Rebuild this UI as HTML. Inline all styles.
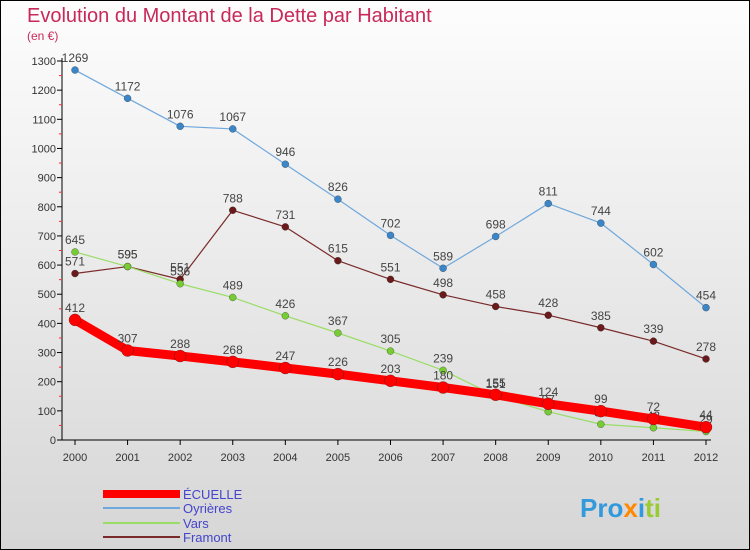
<!DOCTYPE html>
<html><head><meta charset="utf-8"><style>
body{margin:0;width:750px;height:550px;overflow:hidden;font-family:"Liberation Sans",sans-serif}
svg{display:block}
</style></head><body>
<svg width="750" height="550">
<defs><linearGradient id="bg" x1="0" y1="0" x2="0" y2="1"><stop offset="0" stop-color="#fdfdfd"/><stop offset="1" stop-color="#d6d6d6"/></linearGradient></defs>
<rect x="0.5" y="0.5" width="749" height="549" fill="url(#bg)" stroke="#000"/>
<text x="27" y="22" font-size="20" fill="#c8285a">Evolution du Montant de la Dette par Habitant</text>
<text x="27" y="40" font-size="12" fill="#c8285a">(en €)</text>
<g id="axes"></g>
<g id="series"></g>
<g>
<line x1="103" y1="494" x2="180" y2="494" stroke="#ff0000" stroke-width="8"/>
<text x="183" y="499" font-size="13" fill="#4444cc">ÉCUELLE</text>
<line x1="103" y1="508" x2="180" y2="508" stroke="#6fa8dc" stroke-width="2"/>
<text x="183" y="513" font-size="13" fill="#4444cc">Oyrières</text>
<line x1="103" y1="523" x2="180" y2="523" stroke="#99dd66" stroke-width="2"/>
<text x="183" y="528" font-size="13" fill="#4444cc">Vars</text>
<line x1="103" y1="537" x2="180" y2="537" stroke="#7a2a2a" stroke-width="2"/>
<text x="183" y="542" font-size="13" fill="#4444cc">Framont</text>
</g>
<text x="580" y="517" font-size="26" font-weight="bold" fill="#3399dd">Pro<tspan fill="#ff8800">x</tspan>i<tspan fill="#99cc33">ti</tspan></text>
</svg>
<script>
const years=[2000,2001,2002,2003,2004,2005,2006,2007,2008,2009,2010,2011,2012];
const ecuelle=[412,307,288,268,247,226,203,180,155,124,99,72,44];
const oyrieres=[1269,1172,1076,1067,946,826,702,589,698,811,744,602,454];
const vars=[645,595,536,489,426,367,305,239,151,97,54,42,29];
const framont=[571,595,551,788,731,615,551,498,458,428,385,339,278];
const yTicks=[0,100,200,300,400,500,600,700,800,900,1000,1100,1200,1300];
const NS="http://www.w3.org/2000/svg";
const x0=75,x1=706,yb=440,yt=61,ymax=1300;
const X=i=>x0+(x1-x0)*i/(years.length-1);
const Y=v=>yb-(yb-yt)*v/ymax;
function mk(tag,attrs,parent){const e=document.createElementNS(NS,tag);for(const k in attrs)e.setAttribute(k,attrs[k]);parent.appendChild(e);return e;}
const ax=document.getElementById('axes');
let l=mk('line',{x1:62,y1:yt-3,x2:62,y2:yb,stroke:'#000'},ax);


l=mk('line',{x1:62,y1:yb,x2:x1+5,y2:yb,stroke:'#000'},ax);


yTicks.forEach(v=>{
  mk('line',{x1:57,y1:Y(v),x2:62,y2:Y(v),stroke:'#000'},ax);
  if(v<ymax)mk('line',{x1:59,y1:Y(v+50),x2:62,y2:Y(v+50),stroke:'#e33'},ax);
  const t=mk('text',{x:56,y:Y(v)+4,'font-size':11,'text-anchor':'end',fill:'#333'},ax);
  t.textContent=v;
  
  
});
years.forEach((yr,i)=>{
  mk('line',{x1:X(i),y1:yb,x2:X(i),y2:yb+5,stroke:'#000'},ax);
  const t=mk('text',{x:X(i),y:yb+21,'font-size':11,'text-anchor':'middle',fill:'#333'},ax);
  t.textContent=yr;
  
  
});
const sg=document.getElementById('series');
function series(data,color,w,r,name,dot){
  const g=mk('g',{},sg);
  
  
  const p=mk('polyline',{points:data.map((v,i)=>X(i)+','+Y(v)).join(' '),fill:'none',stroke:color,'stroke-width':w,'stroke-linejoin':'round'},g);
  
  
  data.forEach((v,i)=>{
    const c=mk('circle',{cx:X(i),cy:Y(v),r:r,fill:dot,stroke:'#222','stroke-width':0.3},g);
    
    
    const t=mk('text',{x:X(i),y:Y(v)-8,'font-size':12,'text-anchor':'middle',fill:'#444'},g);
    t.textContent=v;
    
    
  });
}
series(framont,'#7a2a2a',1.2,3.5,'framont','#6a1a1a');
series(oyrieres,'#6fa8dc',1.2,3.5,'oyrieres','#3a86c8');
series(vars,'#99dd66',1.2,3.5,'vars','#77cc33');
series(ecuelle,'#ff0000',9,6,'ecuelle','#ff0000');
</script>
</body></html>
